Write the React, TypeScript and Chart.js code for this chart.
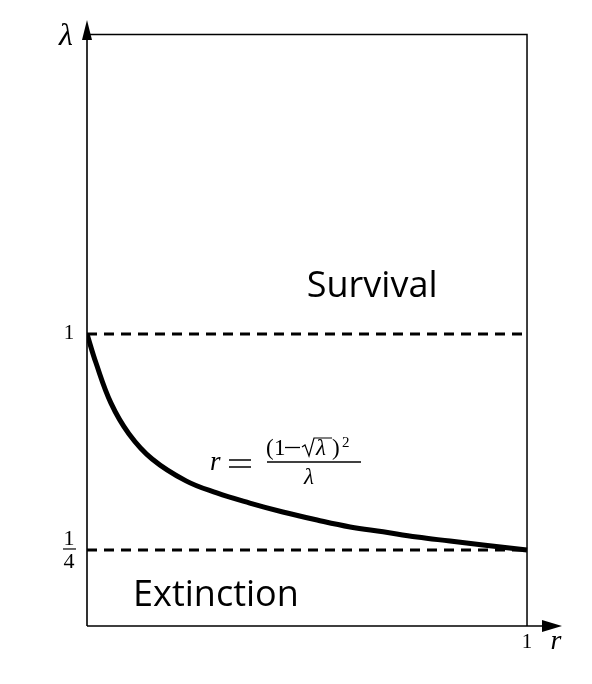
import { useEffect, useRef } from "react";
import { Chart, registerables } from "chart.js";
Chart.register(...registerables);

// curve: r along x, lambda along y
const curveR = [0, 0.0205, 0.0545, 0.0955, 0.148, 0.225, 0.295, 0.37, 0.445, 0.523, 0.598, 0.673, 0.75, 0.825, 0.9, 1];
const curveLambda = [1, 0.899, 0.76, 0.653, 0.566, 0.49, 0.448, 0.413, 0.382, 0.354, 0.33, 0.313, 0.295, 0.281, 0.267, 0.25];
const thresholdLambda = [1, 0.25];
const thresholdR = [0, 1];
const boxTopLambda = 2.04;
const regionLabels = ["Survival", "Extinction"];
const regionR = [0.648, 0.293];
const regionLambda = [1.128, 0.056];
const xTickLabel = "1";
const axisNames = ["r", "λ"];

const SERIF = "'Liberation Serif', 'DejaVu Serif', serif";

export default function App() {
  const ref = useRef<HTMLCanvasElement>(null);
  useEffect(() => {
    const canvas = ref.current!;
    const overlay = {
      id: "overlay",
      beforeDatasetsDraw(chart: any) {
        const ctx = chart.ctx;
        const xs = chart.scales.x;
        const ys = chart.scales.y;
        const x0 = xs.getPixelForValue(0);
        const y0 = ys.bottom;
        const x1 = xs.getPixelForValue(1);
        const yTop = ys.getPixelForValue(boxTopLambda);
        ctx.save();
        ctx.strokeStyle = "#000";
        ctx.fillStyle = "#000";
        ctx.lineWidth = 1.6;
        ctx.beginPath();
        ctx.moveTo(x0, y0);
        ctx.lineTo(x0, ys.top + 12);
        ctx.moveTo(x0, y0);
        ctx.lineTo(xs.right - 12, y0);
        ctx.stroke();
        ctx.lineWidth = 1.5;
        ctx.beginPath();
        ctx.moveTo(x0, yTop);
        ctx.lineTo(x1, yTop);
        ctx.lineTo(x1, y0);
        ctx.stroke();
        ctx.beginPath();
        ctx.moveTo(x0, ys.top);
        ctx.lineTo(x0 - 5, ys.top + 20);
        ctx.lineTo(x0 + 5, ys.top + 20);
        ctx.closePath();
        ctx.fill();
        ctx.beginPath();
        ctx.moveTo(xs.right, y0);
        ctx.lineTo(xs.right - 20, y0 - 6);
        ctx.lineTo(xs.right - 20, y0 + 6);
        ctx.closePath();
        ctx.fill();
        ctx.restore();
      },
      afterDraw(chart: any) {
        const ctx = chart.ctx;
        const xs = chart.scales.x;
        const ys = chart.scales.y;
        const x0 = xs.getPixelForValue(0);
        const y0 = ys.bottom;
        ctx.save();
        ctx.fillStyle = "#000";
        ctx.strokeStyle = "#000";
        ctx.textAlign = "center";
        ctx.textBaseline = "middle";
        // axis names
        ctx.font = "italic 32px " + SERIF;
        ctx.fillText(axisNames[1], x0 - 21, ys.top + 17);
        ctx.font = "italic 28px " + SERIF;
        ctx.fillText(axisNames[0], xs.right - 6, y0 + 16);
        // x tick
        ctx.font = "21px " + SERIF;
        ctx.fillText(xTickLabel, xs.getPixelForValue(1), y0 + 16);
        // y ticks
        ctx.fillText("1", x0 - 18, ys.getPixelForValue(thresholdLambda[0]));
        const yq = ys.getPixelForValue(thresholdLambda[1]);
        ctx.font = "22px " + SERIF;
        ctx.fillText("1", x0 - 18, yq - 11);
        ctx.fillText("4", x0 - 18, yq + 12);
        ctx.lineWidth = 1.2;
        ctx.beginPath();
        ctx.moveTo(x0 - 24, yq - 1);
        ctx.lineTo(x0 - 11, yq - 1);
        ctx.stroke();
        // region labels
        ctx.textBaseline = "alphabetic";
        ctx.font = "36px 'Open Sans'";
        regionLabels.forEach((t, i) => {
          ctx.fillText(t, xs.getPixelForValue(regionR[i]), ys.getPixelForValue(regionLambda[i]));
        });
        // formula r = (1 - sqrt(lambda))^2 / lambda
        ctx.textAlign = "left";
        ctx.font = "italic 27px " + SERIF;
        ctx.fillText("r", 210, 470);
        ctx.lineWidth = 1.4;
        ctx.beginPath();
        ctx.moveTo(229, 460);
        ctx.lineTo(251, 460);
        ctx.moveTo(229, 467);
        ctx.lineTo(251, 467);
        ctx.stroke();
        ctx.font = "23px " + SERIF;
        ctx.fillText("(", 266, 455);
        ctx.fillText("1", 274, 455);
        ctx.lineWidth = 1.3;
        ctx.beginPath();
        ctx.moveTo(285, 447.5);
        ctx.lineTo(300, 447.5);
        ctx.stroke();
        ctx.lineWidth = 1.2;
        ctx.beginPath();
        ctx.moveTo(302, 447);
        ctx.lineTo(305, 445);
        ctx.lineTo(309, 456);
        ctx.lineTo(314, 438);
        ctx.lineTo(332, 438);
        ctx.stroke();
        ctx.font = "italic 23px " + SERIF;
        ctx.fillText("λ", 316, 455);
        ctx.font = "23px " + SERIF;
        ctx.fillText(")", 332, 455);
        ctx.font = "15px " + SERIF;
        ctx.fillText("2", 342, 447);
        ctx.lineWidth = 1.3;
        ctx.beginPath();
        ctx.moveTo(267, 462);
        ctx.lineTo(361, 462);
        ctx.stroke();
        ctx.font = "italic 23px " + SERIF;
        ctx.fillText("λ", 304, 484);
        ctx.restore();
      },
    };
    const chart = new Chart(canvas, {
      type: "line",
      data: {
        datasets: [
          {
            data: curveR.map((r, i) => ({ x: r, y: curveLambda[i] })),
            borderColor: "#000",
            borderWidth: 5,
            pointRadius: 0,
            tension: 0.4,
          },
          ...thresholdLambda.map((l) => ({
            data: thresholdR.map((r) => ({ x: r, y: l })),
            borderColor: "#000",
            borderWidth: 3,
            borderDash: [10, 7],
            pointRadius: 0,
          })),
        ],
      },
      options: {
        responsive: false,
        animation: false,
        layout: { padding: { left: 87, right: 30, top: 20, bottom: 58 } },
        plugins: { legend: { display: false }, tooltip: { enabled: false } },
        scales: {
          x: { type: "linear", min: 0, max: 1.0795, display: false },
          y: { type: "linear", min: -0.0139, max: 2.09, display: false },
        },
      },
      plugins: [overlay],
    });
    return () => chart.destroy();
  }, []);
  return (
    <div style={{ position: "fixed", left: 0, top: 0, width: 592, height: 684, background: "#fff" }}>
      <canvas ref={ref} width={592} height={684} />
    </div>
  );
}
